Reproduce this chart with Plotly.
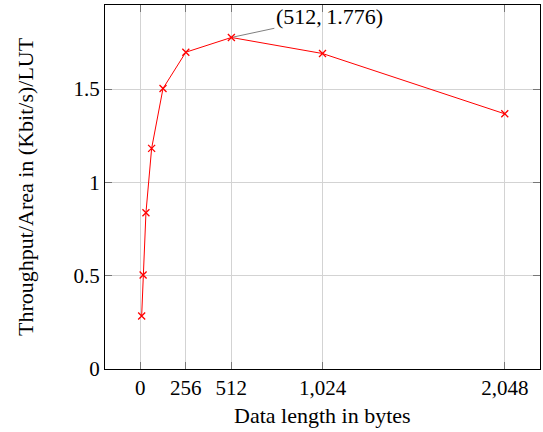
import plotly.graph_objects as go

data_length = [8, 16, 32, 64, 128, 256, 512, 1024, 2048]
throughput_per_area = [0.284, 0.504, 0.837, 1.182, 1.503, 1.697, 1.776, 1.690, 1.367]
x_tick_vals = [0, 256, 512, 1024, 2048]
x_tick_text = ["0", "256", "512", "1,024", "2,048"]
y_tick_vals = [0, 0.5, 1, 1.5]
y_tick_text = ["0", "0.5", "1", "1.5"]
peak_x, peak_y = 512, 1.776

FONT = "Liberation Serif"

fig = go.Figure()
fig.add_trace(go.Scatter(
    x=data_length, y=throughput_per_area, mode="lines+markers",
    line=dict(color="red", width=1),
    marker=dict(symbol="x-thin", size=7, line=dict(color="red", width=1.3), color="red"),
    showlegend=False,
))

fig.add_annotation(
    x=peak_x, y=peak_y, xref="x", yref="y",
    text="(512,\u20091.776)", showarrow=True, arrowhead=0, arrowwidth=1,
    arrowcolor="#808080", ax=98, ay=-21, standoff=2,
    font=dict(family=FONT, size=22, color="black"),
)

# axis titles
fig.add_annotation(
    text="Data length in bytes", xref="paper", yref="paper", x=0.5, y=0,
    yshift=-46, showarrow=False, yanchor="middle", xanchor="center",
    font=dict(family=FONT, size=22, color="black"),
)
fig.add_annotation(
    text="Throughput/Area in (Kbit/s)/LUT", xref="paper", yref="paper", x=0, y=0.5,
    xshift=-80, showarrow=False, textangle=-90, xanchor="center", yanchor="middle",
    font=dict(family=FONT, size=22, color="black"),
)

axis_common = dict(
    showline=True, linecolor="black", linewidth=1, mirror="ticks",
    ticks="inside", ticklen=7, tickcolor="#777777", tickwidth=1,
    showgrid=True, gridcolor="#d3d3d3", gridwidth=1, zeroline=False,
    tickfont=dict(family=FONT, size=21, color="black"),
    automargin=False,
)

fig.update_xaxes(range=[-198, 2246], tickvals=x_tick_vals, ticktext=x_tick_text, **axis_common)
fig.update_yaxes(range=[0, 1.95], tickvals=y_tick_vals, ticktext=y_tick_text, **axis_common)

fig.update_layout(
    width=543, height=432,
    margin=dict(l=105, r=3, t=5, b=63),
    plot_bgcolor="white", paper_bgcolor="white",
)

fig.write_html(
    "out.html",
    config={"displayModeBar": False},
    post_script="document.body.style.margin='0';document.body.style.overflow='hidden';",
)
